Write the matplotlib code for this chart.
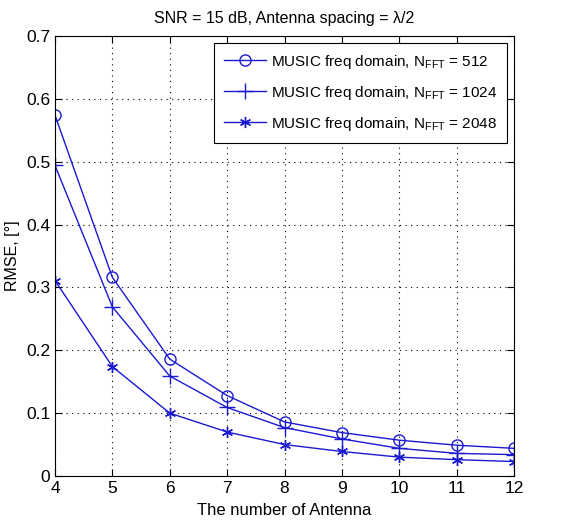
import matplotlib
matplotlib.use('Agg')
import matplotlib.pyplot as plt
import numpy as np

plt.rcParams['font.family'] = ['Liberation Sans', 'DejaVu Sans']
plt.rcParams['mathtext.fontset'] = 'custom'
plt.rcParams['mathtext.rm'] = 'Liberation Sans'
plt.rcParams['mathtext.it'] = 'Liberation Sans:italic'

antennas = [4, 5, 6, 7, 8, 9, 10, 11, 12]
rmse_512 = [0.574, 0.316, 0.186, 0.128, 0.086, 0.069, 0.057, 0.049, 0.044]
rmse_1024 = [0.494, 0.269, 0.159, 0.109, 0.077, 0.059, 0.044, 0.036, 0.034]
rmse_2048 = [0.311, 0.174, 0.100, 0.070, 0.050, 0.039, 0.030, 0.026, 0.023]
nfft = [512, 1024, 2048]

fig = plt.figure(figsize=(5.64, 5.27), dpi=100)
ax = fig.add_axes([55/564, 51/527, 459/564, 440/527])

col = '#1a1ad0'
asterisk = (6, 2, 0)
ax.plot(antennas, rmse_512, '-o', color=col, lw=1, ms=8, mfc='none', mew=1,
        label=r'MUSIC freq domain, N$_{\mathrm{FFT}}$ = %d' % nfft[0])
ax.plot(antennas, rmse_1024, '-+', color=col, lw=1, ms=11, mew=1,
        label=r'MUSIC freq domain, N$_{\mathrm{FFT}}$ = %d' % nfft[1])
ax.plot(antennas, rmse_2048, '-', marker=asterisk, color=col, lw=1, ms=8, mew=1,
        label=r'MUSIC freq domain, N$_{\mathrm{FFT}}$ = %d' % nfft[2])

ax.set_xlim(4, 12)
ax.set_ylim(0, 0.7)
ax.set_xticks(range(4, 13))
ax.set_yticks(np.arange(0, 0.71, 0.1))
ax.set_yticklabels(['0', '0.1', '0.2', '0.3', '0.4', '0.5', '0.6', '0.7'])
ax.tick_params(direction='in', top=True, right=True, labelsize=12.5, length=5)
ax.grid(True, color='black', linestyle=(0, (1, 4)), linewidth=0.8)
for s in ax.spines.values():
    s.set_linewidth(0.8)

ax.set_xlabel('The number of Antenna', fontsize=12, labelpad=5)
ax.set_ylabel('RMSE, [°]', fontsize=11.5, labelpad=4)
ax.set_title('SNR = 15 dB, Antenna spacing = λ/2', fontsize=11.5, pad=9)

leg = ax.legend(loc='upper right', fontsize=11, fancybox=False, framealpha=1,
                edgecolor='black', borderpad=0.65, handlelength=2.8,
                handletextpad=0.3, labelspacing=0.85, borderaxespad=0.45)
leg.get_frame().set_linewidth(0.8)

fig.savefig('out.png', dpi=100)
